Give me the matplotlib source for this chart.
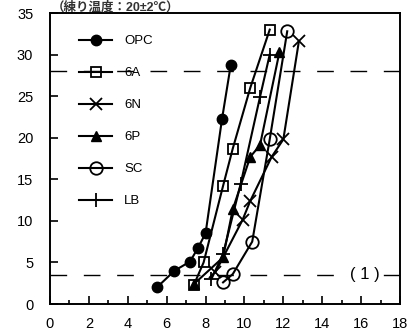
import matplotlib
matplotlib.use("Agg")
import matplotlib.pyplot as plt
from matplotlib.ticker import MultipleLocator

plt.rcParams['font.family'] = ['Liberation Sans', 'Noto Sans CJK JP', 'DejaVu Sans']

# data
opc_x = [5.5, 6.4, 7.2, 7.6, 8.0, 8.85, 9.3]
opc_y = [2.0, 4.0, 5.1, 6.7, 8.5, 22.3, 28.8]
a6_x = [7.4, 7.9, 8.9, 9.4, 10.3, 11.3]
a6_y = [2.3, 5.0, 14.2, 18.7, 26.0, 33.0]
n6_x = [8.5, 9.9, 10.3, 11.4, 12.0, 12.8]
n6_y = [3.8, 10.1, 12.4, 17.7, 19.8, 31.6]
p6_x = [7.4, 8.9, 9.4, 10.3, 10.8, 11.8]
p6_y = [2.4, 5.6, 11.4, 17.7, 19.1, 30.3]
sc_x = [8.9, 9.4, 10.4, 11.3, 12.2]
sc_y = [2.6, 3.6, 7.5, 19.8, 32.8]
lb_x = [8.3, 8.9, 9.8, 10.8, 11.3]
lb_y = [3.0, 6.0, 14.4, 24.9, 30.0]
set_levels = [3.5, 28.0]
title = "（練り温度：20±2℃）"

fig = plt.figure(figsize=(4.09, 3.36), dpi=100)
ax = fig.add_axes([50/409, 32/336, 350/409, 291/336])

lw = 1.5
ms = 7.5
ax.plot(opc_x, opc_y, color='black', lw=lw, marker='o', ms=ms, label='OPC')
ax.plot(a6_x, a6_y, color='black', lw=lw, marker='s', ms=ms, fillstyle='none', mew=1.3, label='6A')
ax.plot(n6_x, n6_y, color='black', lw=lw, marker='x', ms=ms + 1, mew=1.3, label='6N')
ax.plot(p6_x, p6_y, color='black', lw=lw, marker='^', ms=ms, label='6P')
ax.plot(sc_x, sc_y, color='black', lw=lw, marker='o', ms=ms + 1.5, fillstyle='none', mew=1.3, label='SC')
ax.plot(lb_x, lb_y, color='black', lw=lw, marker='+', ms=ms + 2, mew=1.3, label='LB')

for lvl in set_levels:
    ax.axhline(lvl, color='black', lw=1.0, dashes=(12, 12), zorder=0)

ax.text(16.2, set_levels[0], '( 1 )', fontsize=12, ha='center', va='center',
        bbox=dict(facecolor='white', edgecolor='none', pad=1))

ax.set_xlim(0, 18)
ax.set_ylim(0, 35)
ax.xaxis.set_major_locator(MultipleLocator(2))
ax.xaxis.set_minor_locator(MultipleLocator(1))
ax.yaxis.set_major_locator(MultipleLocator(5))
ax.tick_params(axis='both', which='major', direction='in', length=6, width=1.2,
               labelsize=10.5, colors='black')
ax.tick_params(axis='x', which='major', pad=9)
ax.tick_params(axis='y', which='major', pad=12)
ax.tick_params(axis='x', which='minor', direction='in', length=3, width=1.2)
for s in ax.spines.values():
    s.set_linewidth(1.4)

ax.legend(loc='upper left', bbox_to_anchor=(0.05, 0.965), frameon=False,
          fontsize=9.5, handlelength=2.5, labelspacing=1.5, handletextpad=0.9)

fig.text(52/409, 1 - 1/336, title, fontsize=9, ha='left', va='top',
         fontweight='bold', color='#333333')

fig.savefig('out.png', dpi=100)
